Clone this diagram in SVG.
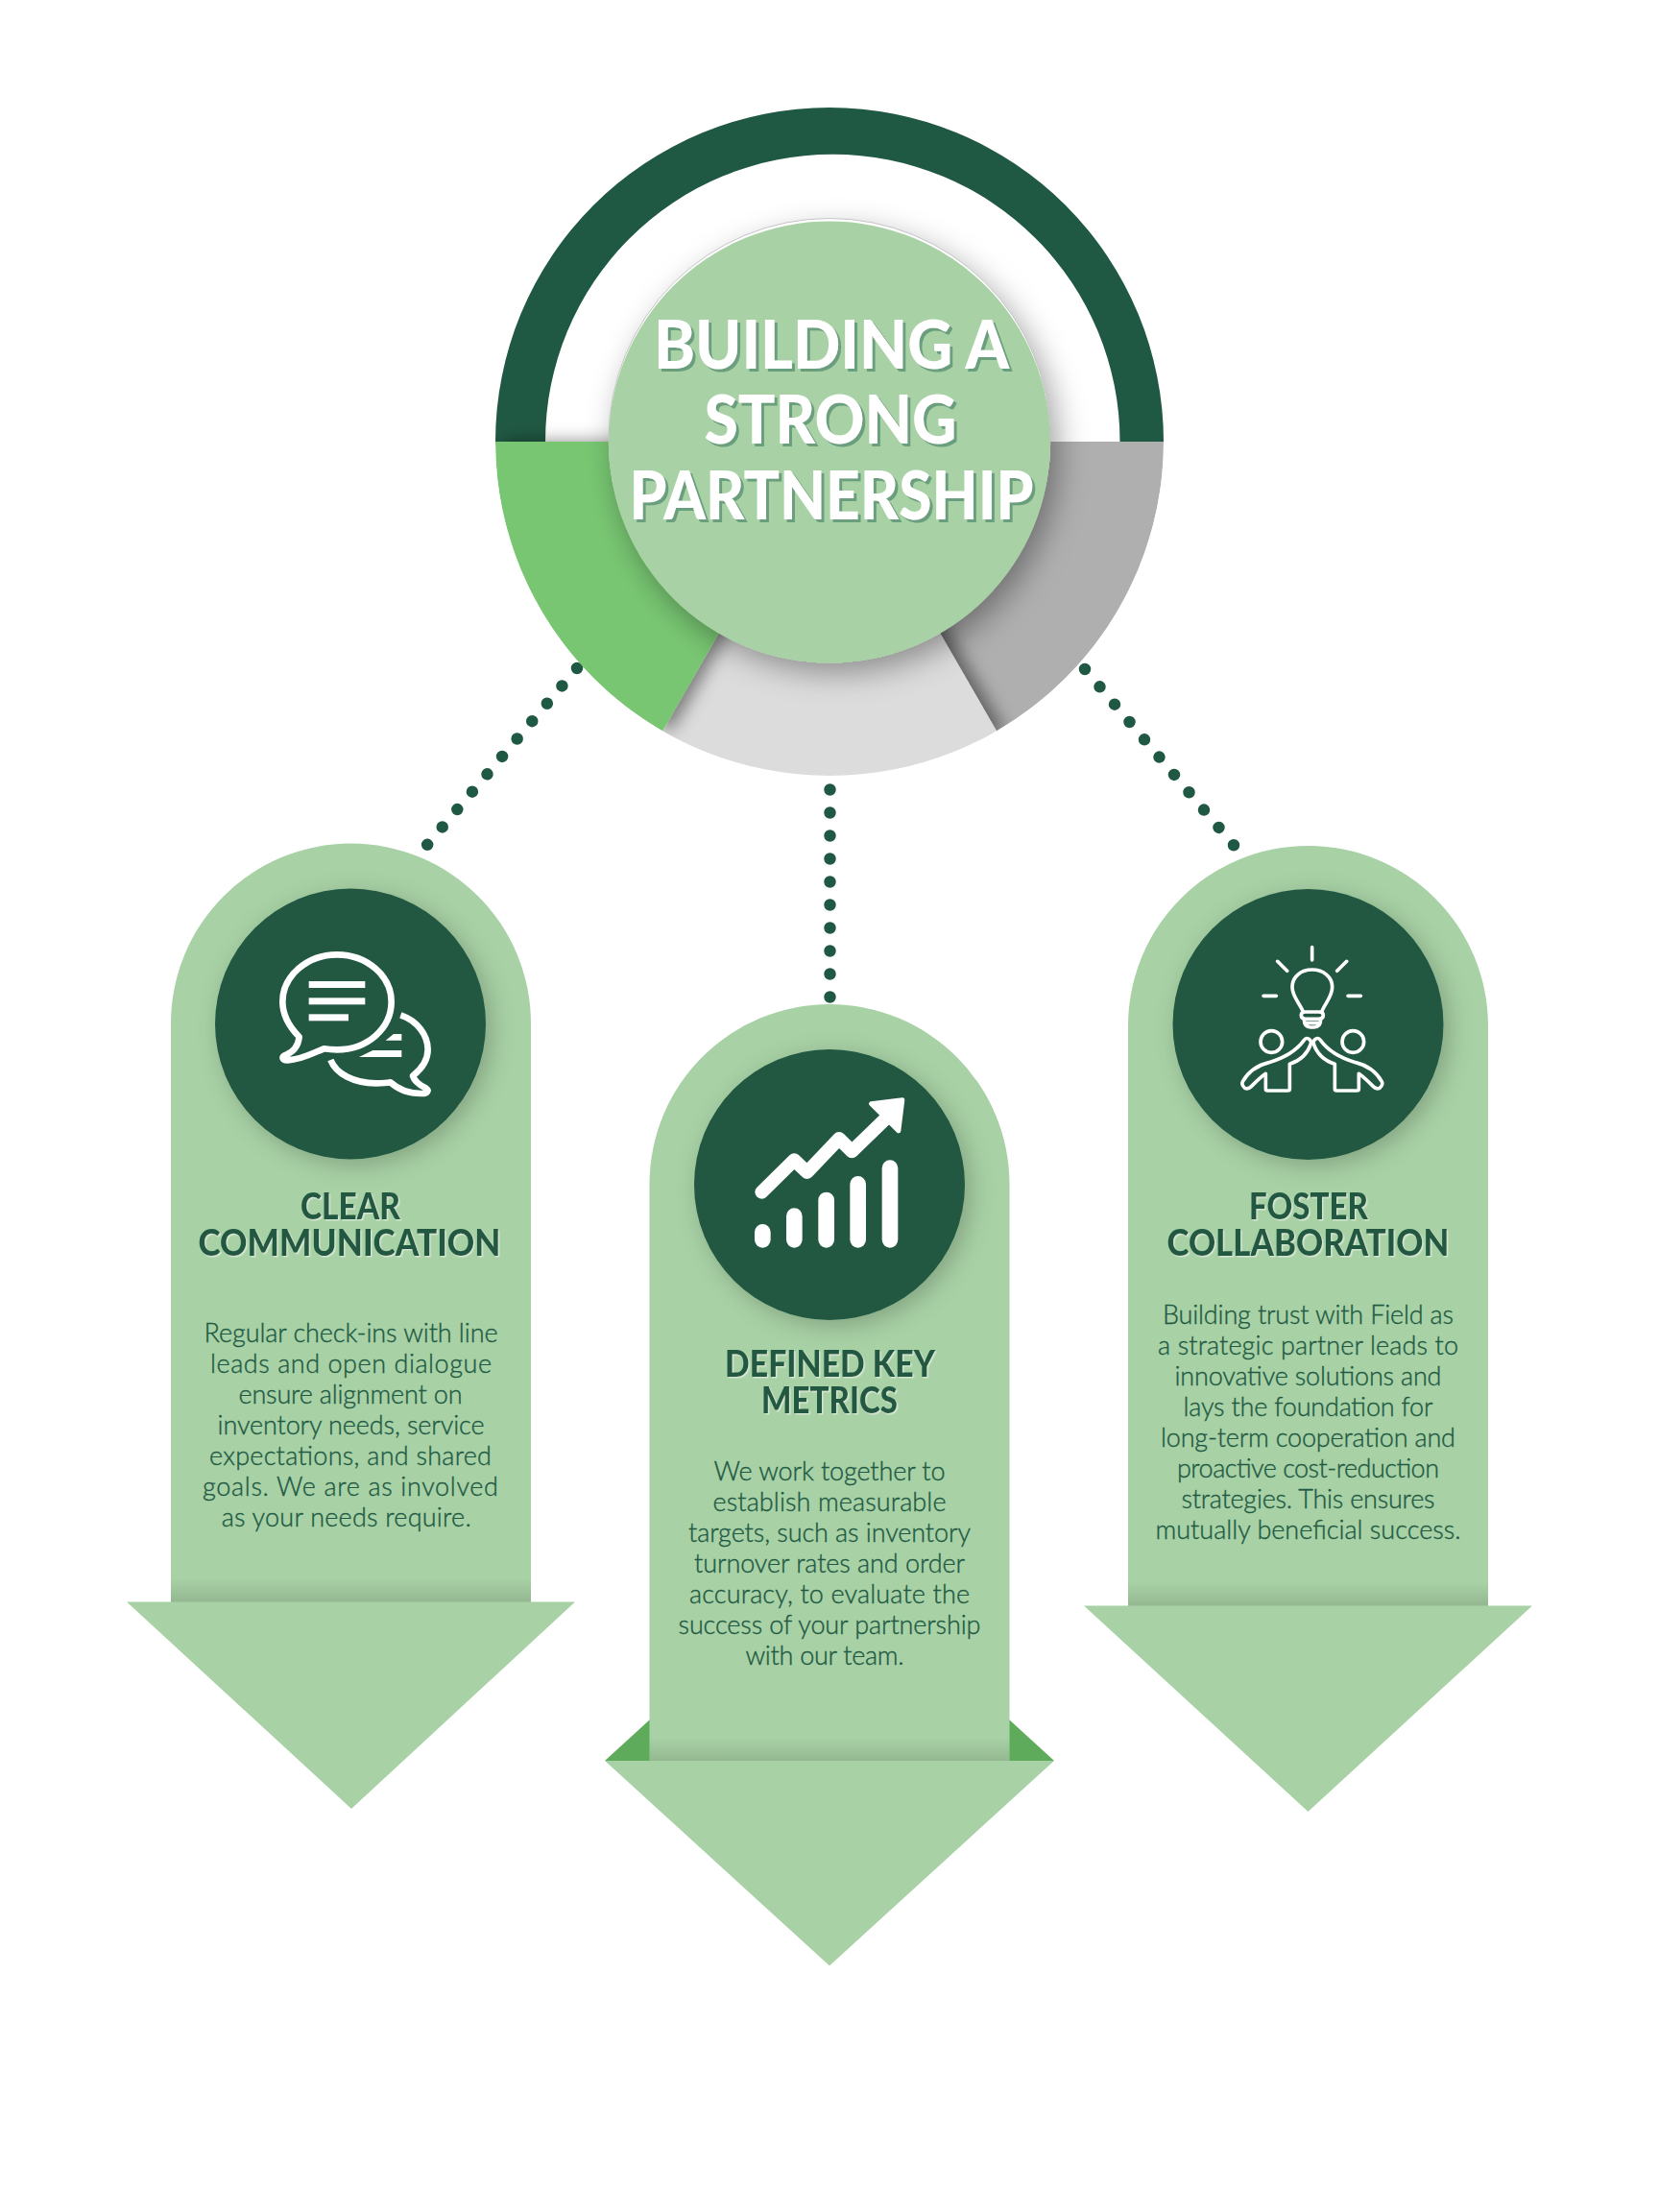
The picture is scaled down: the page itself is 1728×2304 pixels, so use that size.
<svg xmlns="http://www.w3.org/2000/svg" width="1728" height="2304" viewBox="0 0 1728 2304">
<style>
.bg{fill:#fff}
.cap{fill:#a8d1a5}
.disc{fill:#205943;filter:url(#discShadow)}
.dots{fill:none;stroke:#205943;stroke-width:12.5;stroke-linecap:round}
.title{font-family:"Lato","Liberation Sans",sans-serif;font-weight:900;font-size:71px;fill:#fff;text-anchor:middle;filter:url(#titleShadow)}
.head{font-family:"Lato","Liberation Sans",sans-serif;font-weight:900;font-size:38px;fill:#205943;text-anchor:middle;filter:url(#headShadow)}
.body{font-family:"Lato","Liberation Sans",sans-serif;font-weight:300;font-size:27px;fill:#205943;stroke:#205943;stroke-width:.35;text-anchor:middle}
.ico{fill:none;stroke:#fff;stroke-linecap:round;stroke-linejoin:round}
.icof{fill:#fff}
</style>
<defs>
<filter id="discShadow" x="-20%" y="-20%" width="140%" height="140%"><feDropShadow dx="6" dy="6" stdDeviation="12" flood-color="#000" flood-opacity=".22"/></filter>
<filter id="hubShadow" x="-20%" y="-20%" width="140%" height="140%"><feDropShadow dx="8" dy="10" stdDeviation="16" flood-color="#000" flood-opacity=".36"/></filter>
<filter id="sliceShadow" x="-30%" y="-30%" width="160%" height="160%"><feDropShadow dx="9" dy="0" stdDeviation="9" flood-color="#000" flood-opacity=".45"/></filter>
<filter id="titleShadow" x="-5%" y="-10%" width="110%" height="125%"><feDropShadow dx="3" dy="3" stdDeviation="0" flood-color="#6b9f7e"/></filter>
<filter id="headShadow" x="-5%" y="-10%" width="110%" height="125%"><feDropShadow dx="1.5" dy="1.5" stdDeviation="0" flood-color="#d3e6d1"/></filter>
<linearGradient id="fold" x1="0" y1="0" x2="0" y2="1"><stop offset="0" stop-color="#000" stop-opacity="0"/><stop offset="1" stop-color="#000" stop-opacity=".12"/></linearGradient>
<clipPath id="pie"><circle cx="864" cy="460" r="348"/></clipPath>
</defs>
<rect class="bg" width="1728" height="2304"/>

<g id="connectors">
<line class="dots" x1="601" y1="696" x2="445" y2="880" stroke-dasharray="0 24.1"/>
<line class="dots" x1="864.5" y1="822.5" x2="864.5" y2="1040" stroke-dasharray="0 24"/>
<line class="dots" x1="1130" y1="697" x2="1300" y2="898" stroke-dasharray="0 24"/>
</g>

<g id="hub">
<path d="M516,460A348,348 0 0 1 1212,460L1166.5,460A299,299 0 0 0 568,460Z" fill="#205943"/>
<g clip-path="url(#pie)">
<path d="M864,460L1038,761.4A348,348 0 0 0 1212,460Z" fill="#afafaf"/>
<path d="M864,460L690,761.4A348,348 0 0 0 1038,761.4Z" fill="#dcdcdc" filter="url(#sliceShadow)"/>
<path d="M864,460L516,460A348,348 0 0 0 690,761.4Z" fill="#78c672" filter="url(#sliceShadow)"/>
<circle cx="864" cy="460.5" r="230" fill="#a8d1a5" filter="url(#hubShadow)"/>
<circle cx="864" cy="457.5" r="230" fill="#fff" stroke="#c4c4c4" stroke-width="1"/>
<circle cx="864" cy="460.5" r="230" fill="#a8d1a5"/>
</g>
<text class="title" x="866" y="384" textLength="370" lengthAdjust="spacingAndGlyphs">BUILDING A</text>
<text class="title" x="865" y="462" textLength="263" lengthAdjust="spacingAndGlyphs">STRONG</text>
<text class="title" x="866" y="540.5" textLength="421" lengthAdjust="spacingAndGlyphs">PARTNERSHIP</text>
</g>

<g id="node-communication">
<path class="cap" d="M178,1668.5V1066A187.5,187.5 0 0 1 553,1066V1668.5H599L366,1884L132,1668.5Z"/>
<rect x="178" y="1644" width="375" height="24.5" fill="url(#fold)"/>
<circle class="disc" cx="365" cy="1066.5" r="141"/>
<g transform="translate(220,930) scale(.3333)">
<path class="ico" stroke-width="20" d="M275,450C235,410 223,375 223,340C223,260 300,193 393,193C487,193 563,260 563,340C563,425 487,490 393,490C378,490 365,489 352,487C320,500 280,522 240,523C222,524 218,512 232,507C255,498 272,480 275,450Z"/>
<path class="ico" stroke-width="20" d="M592,382C645,400 677,445 677,490C677,520 658,550 630,572C635,590 650,600 670,610C682,618 675,627 660,627C620,628 585,615 560,592C545,595 530,595 515,595C445,595 390,565 373,522" style="stroke-linecap:butt"/>
<rect class="icof" x="305" y="276" width="176" height="21"/>
<rect class="icof" x="305" y="328" width="176" height="21"/>
<rect class="icof" x="305" y="379" width="124" height="21"/>
<path class="icof" d="M545,461L570,441H595V461ZM462,513L505,492H595V513Z"/>
</g>
<text class="head" x="365" y="1270" textLength="104" lengthAdjust="spacingAndGlyphs">CLEAR</text>
<text class="head" x="364" y="1308" textLength="315" lengthAdjust="spacingAndGlyphs">COMMUNICATION</text>
<text class="body" x="365.5" y="1398" textLength="306">Regular check-ins with line</text>
<text class="body" x="365.5" y="1430" textLength="293">leads and open dialogue</text>
<text class="body" x="365" y="1462" textLength="233">ensure alignment on</text>
<text class="body" x="365.5" y="1494" textLength="278">inventory needs, service</text>
<text class="body" x="365" y="1526" textLength="294">expectations, and shared</text>
<text class="body" x="365" y="1558" textLength="308">goals. We are as involved</text>
<text class="body" x="360.7" y="1590" textLength="260">as your needs require.</text>
</g>

<g id="node-metrics">
<path d="M630,1834L864,1620L1098,1834Z" fill="#5eac5b"/>
<path class="cap" d="M676.5,1834V1233.5A187.5,187.5 0 0 1 1051.5,1233.5V1834H1098L864,2047.5L630,1834Z"/>
<rect x="676.5" y="1810" width="375" height="24" fill="url(#fold)"/>
<circle class="disc" cx="864" cy="1234" r="141"/>
<g transform="translate(730,1100) scale(.3333)">
<g class="ico" stroke-width="50">
<path d="M193,550V574M292,500V574M392,450V574M491,400V574M591,350V574"/>
</g>
<path class="ico" stroke-width="42" d="M190,425L292,325L332,363L432,258L472,298L575,198"/>
<path class="icof ico" stroke-width="14" d="M532,149L630,137L618,234Z"/>
</g>
<text class="head" x="864.5" y="1433.5" textLength="219" lengthAdjust="spacingAndGlyphs">DEFINED KEY</text>
<text class="head" x="864" y="1471.5" textLength="142" lengthAdjust="spacingAndGlyphs">METRICS</text>
<text class="body" x="864" y="1541.5" textLength="241">We work together to</text>
<text class="body" x="864" y="1573.5" textLength="243">establish measurable</text>
<text class="body" x="864" y="1605.5" textLength="294">targets, such as inventory</text>
<text class="body" x="864" y="1637.5" textLength="282">turnover rates and order</text>
<text class="body" x="864" y="1669.5" textLength="292">accuracy, to evaluate the</text>
<text class="body" x="864" y="1701.5" textLength="315">success of your partnership</text>
<text class="body" x="859" y="1733.5" textLength="165">with our team.</text>
</g>

<g id="node-collaboration">
<path class="cap" d="M1175,1672.5V1068.5A187.5,187.5 0 0 1 1550,1068.5V1672.5H1596L1362.5,1887L1129,1672.5Z"/>
<rect x="1175" y="1648" width="375" height="24.5" fill="url(#fold)"/>
<circle class="disc" cx="1362.5" cy="1067" r="141"/>
<g transform="translate(1250,930) scale(.3333)">
<g class="ico" stroke-width="11">
<path d="M350,170V210M242,214L272,244M458,214L428,244M198,322H238M462,322H502"/>
<path d="M322,372C312,345 288,325 288,295C288,262 315,240 350,240C385,240 413,262 413,295C413,325 390,345 380,372"/>
<path d="M328,372H372Q385,372 385,382Q385,394 372,394H328Q316,394 316,382Q316,372 328,372Z"/>
<path d="M325,394C325,412 332,420 345,420H356C370,420 377,412 377,394M330,407H372"/>
<circle cx="223" cy="465" r="34"/>
<circle cx="478" cy="465" r="34"/>
<path d="M205,565V612Q205,618 211,618H274Q280,618 280,612V535C310,525 335,505 346,472Q348,462 342,458Q333,450 325,460C300,495 265,515 215,530C175,540 150,560 133,590Q128,600 140,610Q150,615 160,605C175,590 190,575 205,565Z"/>
<path d="M496,565V612Q496,618 490,618H427Q421,618 421,612V535C391,525 366,505 355,472Q353,462 359,458Q368,450 376,460C401,495 436,515 486,530C526,540 551,560 568,590Q573,600 561,610Q551,615 541,605C526,590 511,575 496,565Z"/>
</g>
</g>
<text class="head" x="1363" y="1270" textLength="124" lengthAdjust="spacingAndGlyphs">FOSTER</text>
<text class="head" x="1362.5" y="1308" textLength="294" lengthAdjust="spacingAndGlyphs">COLLABORATION</text>
<text class="body" x="1362.5" y="1379" textLength="303">Building trust with Field as</text>
<text class="body" x="1362.5" y="1411" textLength="313">a strategic partner leads to</text>
<text class="body" x="1362.5" y="1443" textLength="278">innovative solutions and</text>
<text class="body" x="1362.5" y="1475" textLength="260">lays the foundation for</text>
<text class="body" x="1362.5" y="1507" textLength="307">long-term cooperation and</text>
<text class="body" x="1362.5" y="1539" textLength="273">proactive cost-reduction</text>
<text class="body" x="1362.5" y="1571" textLength="264">strategies. This ensures</text>
<text class="body" x="1362.5" y="1603" textLength="318">mutually beneficial success.</text>
</g>
</svg>
